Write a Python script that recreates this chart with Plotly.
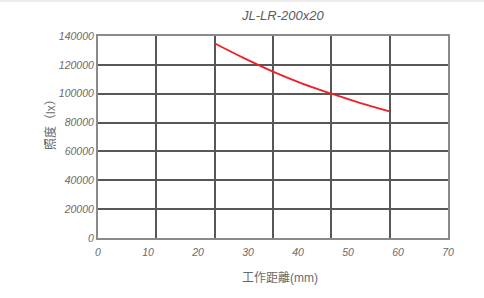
import plotly.graph_objects as go

# Data
distance_mm = [23.3, 29, 35, 41, 46.7, 52.5, 58.3]
illuminance_lx = [135000, 125000, 115300, 106800, 100000, 93500, 87800]
x_tick_labels = [0, 10, 20, 30, 40, 50, 60, 70]
y_tick_labels = [0, 20000, 40000, 60000, 80000, 100000, 120000, 140000]
x_grid_positions = [70 / 6 * k for k in range(7)]

title_text = "JL-LR-200x20"
x_title = "工作距離(mm)"
y_title = "照度（lx）"

FONT = "Arial, 'Liberation Sans', 'Noto Sans CJK TC', sans-serif"
GRAY = "#6a6a6a"

fig = go.Figure()
fig.add_trace(go.Scatter(
    x=distance_mm, y=illuminance_lx, mode="lines",
    line=dict(color="#ec2028", width=1.8, shape="spline"),
    hoverinfo="skip", showlegend=False,
))
# invisible trace to anchor the labelled x axis
fig.add_trace(go.Scatter(
    x=[x_tick_labels[0], x_tick_labels[-1]], y=[0, 0], xaxis="x2",
    mode="markers", marker=dict(opacity=0), showlegend=False, hoverinfo="skip",
))

fig.update_layout(
    width=484, height=298,
    margin=dict(l=98, r=36, t=36, b=60),
    paper_bgcolor="white", plot_bgcolor="white",
    font=dict(family=FONT, color=GRAY),
    xaxis=dict(
        range=[0, 70], tickvals=x_grid_positions, showticklabels=False,
        showgrid=True, gridcolor="#575757", gridwidth=2,
        showline=True, linecolor="#8a8a8a", linewidth=2, mirror=True,
        zeroline=False, ticks="",
    ),
    xaxis2=dict(
        range=[0, 70], overlaying="x", side="bottom", anchor="y",
        tickvals=x_tick_labels, ticktext=[f"<i>{v}</i>" for v in x_tick_labels],
        showgrid=False, zeroline=False, showline=False, ticks="",
        tickfont=dict(size=10.5, color=GRAY, family=FONT),
        ticklabelstandoff=6,
    ),
    yaxis=dict(
        range=[0, 140000], tickvals=y_tick_labels,
        ticktext=[f"<i>{v}</i>" for v in y_tick_labels],
        showgrid=True, gridcolor="#575757", gridwidth=2,
        showline=True, linecolor="#8a8a8a", linewidth=2, mirror=True,
        zeroline=False, ticks="",
        tickfont=dict(size=10.5, color=GRAY, family=FONT),
    ),
    annotations=[
        dict(text=f"<i>{title_text}</i>", xref="paper", yref="paper",
             x=(282 - 98) / 350, y=1 + (36 - 16) / 202,
             xanchor="center", yanchor="middle", showarrow=False,
             font=dict(size=13, color="#5a5a5a", family=FONT)),
        dict(text=x_title, xref="paper", yref="paper", showarrow=False,
             x=(280 - 98) / 350, y=-(278 - 238) / 202,
             xanchor="center", yanchor="middle",
             font=dict(size=12, color=GRAY, family=FONT)),
        dict(text=y_title, xref="paper", yref="paper", showarrow=False, textangle=-90,
             x=-(98 - 50) / 350, y=(238 - 122) / 202,
             xanchor="center", yanchor="middle",
             font=dict(size=12, color=GRAY, family=FONT)),
    ],
    shapes=[
        dict(type="rect", xref="paper", yref="paper", layer="below",
             x0=-98 / 350, x1=(484 - 98) / 350,
             y0=1 + 34 / 202, y1=1 + 36 / 202,
             fillcolor="#ededed", line=dict(width=0)),
    ],
)

fig.write_html("out.html")
